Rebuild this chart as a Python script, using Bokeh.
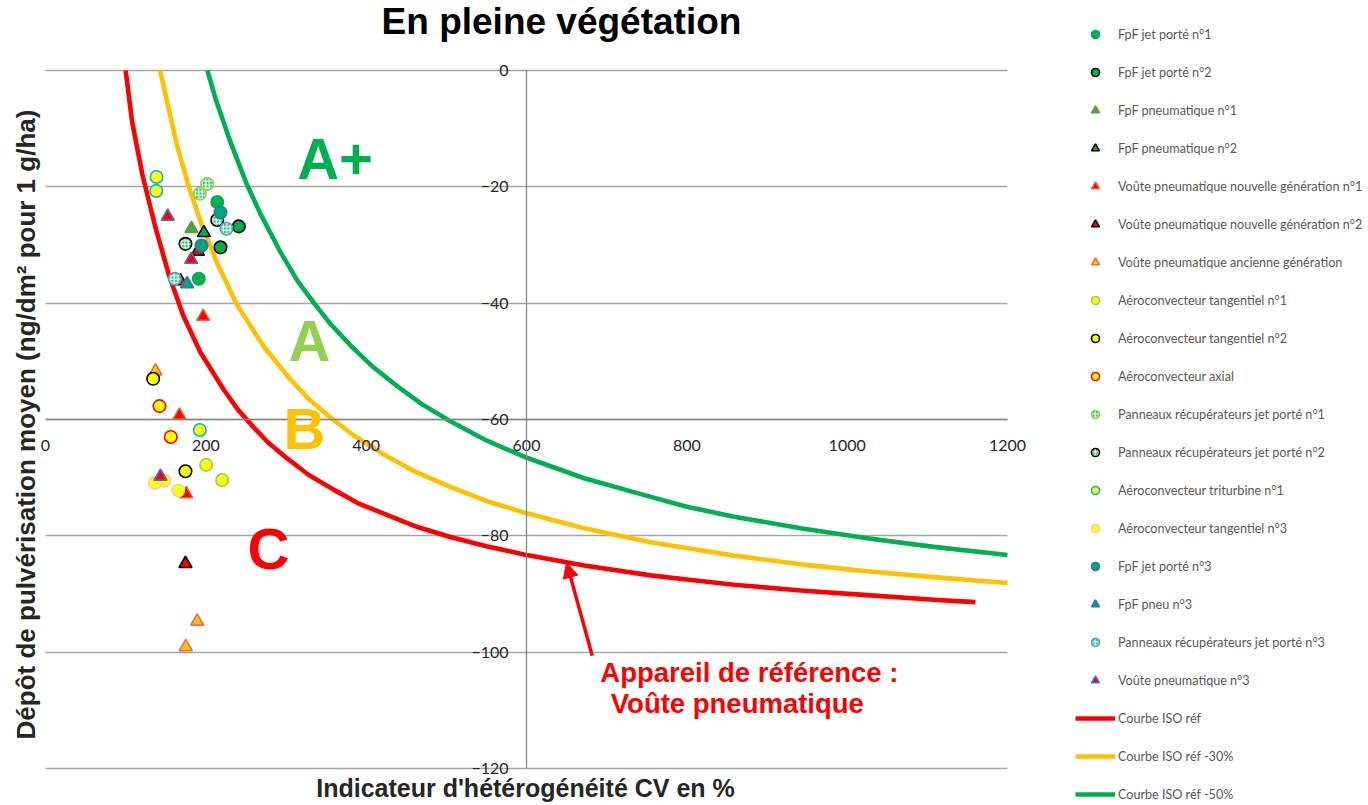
import math
from bokeh.plotting import figure
from bokeh.models import (LinearAxis, FixedTicker, Grid, Legend, LegendItem,
                          Label, Arrow, NormalHead, Range1d)
from bokeh.embed import file_html
from bokeh.resources import INLINE

# ---------------- data ----------------
x_ticks = [0, 200, 400, 600, 800, 1000, 1200]
y_ticks = [0, -20, -40, -60, -80, -100, -120]

fpf_jet1_x = [214.2, 191.2]
fpf_jet1_y = [-22.6, -35.8]
fpf_jet2_x = [241.1, 218.3]
fpf_jet2_y = [-26.8, -30.4]
fpf_pneu1_x = [182.1]
fpf_pneu1_y = [-27.2]
fpf_pneu2_x = [197.5]
fpf_pneu2_y = [-27.9]
voute_ng1_x = [196.7, 167.1, 175.5]
voute_ng1_y = [-42.3, -59.3, -72.8]
voute_ng2_x = [190.0, 168.4, 174.6]
voute_ng2_y = [-31.1, -36.2, -84.8]
voute_anc_x = [137.2, 189.2, 175.0]
voute_anc_y = [-51.7, -94.7, -99.1]
aero_tang1_x = [200.4, 220.4]
aero_tang1_y = [-67.8, -70.4]
aero_tang2_x = [134.3, 174.6]
aero_tang2_y = [-53.0, -68.9]
aero_axial_x = [142.2, 156.3]
aero_axial_y = [-57.7, -63.0]
pann1_x = [192.5, 201.7]
pann1_y = [-21.2, -19.5]
pann2_x = [214.2, 174.6]
pann2_y = [-25.7, -29.8]
aero_tri1_x = [138.5, 138.1, 192.5]
aero_tri1_y = [-18.3, -20.7, -61.8]
aero_tang3_x = [136.3, 148.4, 165.5]
aero_tang3_y = [-70.9, -70.5, -72.2]
fpf_jet3_x = [218.3, 194.6]
fpf_jet3_y = [-24.4, -30.1]
fpf_pneu3_x = [176.7]
fpf_pneu3_y = [-36.7]
pann3_x = [225.8, 161.3]
pann3_y = [-27.2, -35.8]
voute3_x = [152.5, 181.7, 143.4]
voute3_y = [-25.1, -32.5, -69.8]

iso_ref_x = [100, 108, 121, 137, 154, 172, 193, 222, 240, 260, 278, 297, 328, 360,
             390, 422, 460, 505, 550, 597, 672, 755, 800, 859, 942, 1025, 1108, 1160]
iso_ref_y = [0, -8.8, -18.0, -26.9, -35.2, -42.2, -48.4, -54.8, -58.3, -61.4, -64.0,
             -66.2, -69.5, -72.1, -74.4, -76.2, -78.3, -80.2, -81.8, -83.2, -85.1,
             -86.8, -87.5, -88.4, -89.4, -90.2, -91.0, -91.4]
iso_30_x = [143, 152, 164, 179, 193, 214, 239, 272, 306, 330, 356, 385, 422, 460,
            505, 550, 597, 672, 755, 800, 859, 942, 1025, 1108, 1200]
iso_30_y = [0, -5.6, -12.9, -20.1, -25.8, -33.1, -40.3, -47.4, -53.2, -56.7, -59.7,
            -62.8, -66.0, -68.9, -71.6, -74.0, -76.0, -78.7, -81.1, -82.1, -83.4,
            -84.9, -86.1, -87.1, -88.1]
iso_50_x = [202, 212, 231, 250, 268, 293, 315, 335, 355, 380, 408, 439, 470, 505,
            550, 597, 672, 755, 800, 859, 942, 1025, 1108, 1200]
iso_50_y = [0, -4.8, -12.4, -19.2, -24.6, -31.2, -36.3, -40.0, -43.5, -47.2, -50.9,
            -54.3, -57.4, -60.3, -63.6, -66.4, -70.1, -73.3, -75.0, -76.7, -78.7,
            -80.4, -81.9, -83.3]

series_names = [
    "FpF jet porté n°1", "FpF jet porté n°2", "FpF pneumatique n°1",
    "FpF pneumatique n°2", "Voûte pneumatique nouvelle génération n°1",
    "Voûte pneumatique nouvelle génération n°2",
    "Voûte pneumatique ancienne génération", "Aéroconvecteur tangentiel n°1",
    "Aéroconvecteur tangentiel n°2", "Aéroconvecteur axial",
    "Panneaux récupérateurs jet porté n°1", "Panneaux récupérateurs jet porté n°2",
    "Aéroconvecteur triturbine n°1", "Aéroconvecteur tangentiel n°3",
    "FpF jet porté n°3", "FpF pneu n°3", "Panneaux récupérateurs jet porté n°3",
    "Voûte pneumatique n°3",
]
series_x = [fpf_jet1_x, fpf_jet2_x, fpf_pneu1_x, fpf_pneu2_x, voute_ng1_x,
            voute_ng2_x, voute_anc_x, aero_tang1_x, aero_tang2_x, aero_axial_x,
            pann1_x, pann2_x, aero_tri1_x, aero_tang3_x, fpf_jet3_x, fpf_pneu3_x,
            pann3_x, voute3_x]
series_y = [fpf_jet1_y, fpf_jet2_y, fpf_pneu1_y, fpf_pneu2_y, voute_ng1_y,
            voute_ng2_y, voute_anc_y, aero_tang1_y, aero_tang2_y, aero_axial_y,
            pann1_y, pann2_y, aero_tri1_y, aero_tang3_y, fpf_jet3_y, fpf_pneu3_y,
            pann3_y, voute3_y]
curve_names = ["Courbe ISO réf", "Courbe ISO réf -30%", "Courbe ISO réf -50%"]
curve_x = [iso_ref_x, iso_30_x, iso_50_x]
curve_y = [iso_ref_y, iso_30_y, iso_50_y]

# ---------------- styles ----------------
GREEN = "#00B050"
LGREEN = "#92D050"
ORANGE = "#FFC000"
RED = "#FF0000"
YELLOW = "#FFFF00"
BLUE = "#2E75B6"
# (marker, fill, line, hatch)
styles = [
    ("circle", GREEN, GREEN, None),
    ("circle", GREEN, "#000000", None),
    ("triangle", "#4FA23A", "#5E9E48", None),
    ("triangle", GREEN, "#000000", None),
    ("triangle", RED, "#E8622A", None),
    ("triangle", RED, "#000000", None),
    ("triangle", ORANGE, "#E0705A", None),
    ("circle", YELLOW, LGREEN, None),
    ("circle", YELLOW, "#000000", None),
    ("circle", YELLOW, RED, None),
    ("circle", "#3CC377", LGREEN, "cross"),
    ("circle", "#3CC377", "#000000", "cross"),
    ("circle", YELLOW, "#00B0F0", None),
    ("circle", YELLOW, "#F8CBAD", None),
    ("circle", "#00A86B", BLUE, None),
    ("triangle", "#00A86B", BLUE, None),
    ("circle", "#3CC377", "#5B9BD5", "cross"),
    ("triangle", RED, "#4F6FD0", None),
]
curve_colors = [RED, ORANGE, GREEN]

TICK_FONT = "Lato"
BOLD_FONT = "Liberation Sans"
AXIS_GREY = "#868686"

# The frame covers the whole canvas; the 0..1200 x -120..0 chart area sits inside it
# (x: 0 -> 45 px, 1200 -> 1007 px ; y: 0 -> 70 px, -120 -> 768 px).
W, H = 1368, 805
p = figure(frame_width=W, frame_height=H, min_border=0,
           x_range=Range1d(-56.13, 1650.3), y_range=Range1d(-126.36, 12.034),
           x_axis_type=None, y_axis_type=None,
           output_backend="svg", toolbar_location=None,
           outline_line_color=None,
           background_fill_color="white", border_fill_color="white")

# axes crossing in the middle of the plot
xaxis = LinearAxis(ticker=FixedTicker(ticks=x_ticks), fixed_location=-60, bounds=(0, 1200),
                   axis_line_color=AXIS_GREY, axis_line_width=1.3,
                   major_tick_in=0, major_tick_out=0, minor_tick_line_color=None,
                   major_label_standoff=20, major_label_text_font=TICK_FONT,
                   major_label_text_font_size="16px", major_label_text_color="#262626")
p.add_layout(xaxis, "below")
yaxis = LinearAxis(ticker=FixedTicker(ticks=y_ticks), fixed_location=600, bounds=(-120, 0),
                   axis_line_color=AXIS_GREY, axis_line_width=1.3,
                   major_tick_in=0, major_tick_out=0, minor_tick_line_color=None,
                   major_label_standoff=18, major_label_text_font=TICK_FONT,
                   major_label_text_font_size="16px", major_label_text_color="#262626")
p.add_layout(yaxis, "left")
p.add_layout(Grid(dimension=1, ticker=FixedTicker(ticks=y_ticks), bounds=(-120, 0),
                  cross_bounds=(0, 1200),
                  grid_line_color="#A6A6A6", grid_line_width=1.3))

# titles (screen units: x from the left edge, y up from the bottom edge)
p.add_layout(Label(x=561, y=H - 21, x_units="screen", y_units="screen",
                   text="En pleine végétation", text_font=BOLD_FONT,
                   text_font_size="37px", text_font_style="bold",
                   text_color="#000000", text_align="center",
                   text_baseline="alphabetic"))
p.add_layout(Label(x=525, y=H - 787, x_units="screen", y_units="screen",
                   text="Indicateur d'hétérogénéité CV en %", text_font=BOLD_FONT,
                   text_font_size="25px", text_font_style="bold",
                   text_color="#262626", text_align="center",
                   text_baseline="alphabetic"))
p.add_layout(Label(x=25, y=H - 424, x_units="screen", y_units="screen", angle=math.pi / 2,
                   text="Dépôt de pulvérisation moyen (ng/dm² pour 1 g/ha)",
                   text_font=BOLD_FONT, text_font_size="26px", text_font_style="bold",
                   text_color="#262626", text_align="center",
                   text_baseline="alphabetic"))

# curves (under the points)
curve_renderers = []
for cx, cy, col in zip(curve_x, curve_y, curve_colors):
    r = p.line(cx, cy, line_color=col, line_width=4.6, line_join="round")
    curve_renderers.append(r)

point_renderers = []
for sx, sy, (mk, fc, lc, hatch) in zip(series_x, series_y, styles):
    kw = dict(marker=mk, size=13 if mk == "triangle" else 12.5,
              fill_color=fc, line_color=lc, line_width=1.6)
    if hatch:
        kw.update(hatch_pattern=hatch, hatch_color="white", hatch_scale=3.5,
                  hatch_weight=1.2, hatch_alpha=0.9)
    r = p.scatter(sx, sy, **kw)
    point_renderers.append(r)

# zone labels
zone_text = ["A+", "A", "B", "C"]
zone_pos_x = [314, 303, 297, 252]
zone_pos_y = [-15.2, -46.4, -61.6, -82.1]
zone_colors = [GREEN, LGREEN, ORANGE, RED]
for t, zx, zy, zc in zip(zone_text, zone_pos_x, zone_pos_y, zone_colors):
    p.add_layout(Label(x=zx, y=zy, text=t, text_font=BOLD_FONT,
                       text_font_size="58px", text_font_style="bold",
                       text_color=zc, text_align="left",
                       text_baseline="alphabetic"))

# reference device annotation
ref_lines = ["Appareil de référence :", "Voûte pneumatique"]
ref_pos_x = [878, 863]
ref_pos_y = [-103.5, -108.8]
for t, rx, ry in zip(ref_lines, ref_pos_x, ref_pos_y):
    p.add_layout(Label(x=rx, y=ry, text=t, text_font=BOLD_FONT,
                       text_font_size="27.5px", text_font_style="bold",
                       text_color=RED, text_align="center",
                       text_baseline="alphabetic"))
p.add_layout(Arrow(end=NormalHead(size=15, fill_color=RED, line_color=RED),
                   x_start=682, y_start=-100.6, x_end=650, y_end=-84.6,
                   line_color=RED, line_width=3.5))

# legend on the right (inside the canvas-wide frame)
items = [LegendItem(label=n, renderers=[r]) for n, r in zip(series_names, point_renderers)]
items += [LegendItem(label=n, renderers=[r]) for n, r in zip(curve_names, curve_renderers)]
legend = Legend(items=items, location=(1075, 1), orientation="vertical",
                glyph_width=40, glyph_height=20, label_height=20, spacing=18,
                padding=0, margin=0, label_standoff=3,
                border_line_color=None, background_fill_alpha=0,
                label_text_font=TICK_FONT, label_text_font_size="12.6px",
                label_text_color="#595959")
p.add_layout(legend)

open("out.html", "w").write(file_html(p, INLINE))
